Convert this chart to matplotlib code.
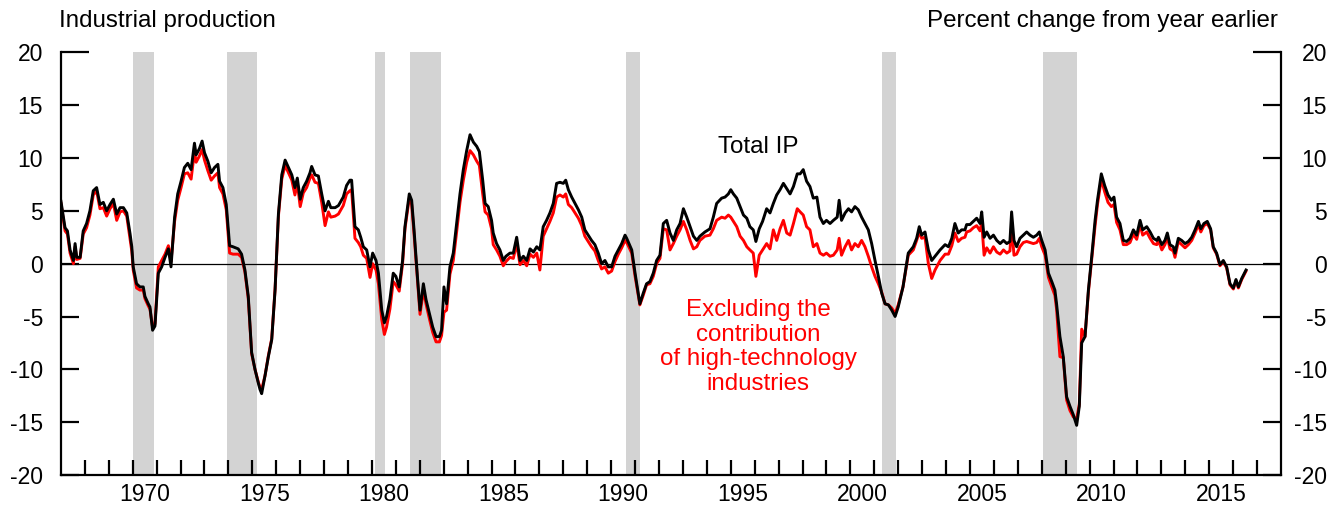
import matplotlib
matplotlib.use("Agg")
import matplotlib.pyplot as plt
import matplotlib.transforms as mtransforms

plt.rcParams["font.family"] = ["Liberation Sans", "DejaVu Sans"]
plt.rcParams["axes.unicode_minus"] = False

# decimal year of each reading
dates = [
    1967.00, 1967.17, 1967.27, 1967.38, 1967.52, 1967.59, 1967.66, 1967.80, 1967.93,
    1968.07, 1968.21, 1968.35, 1968.49, 1968.63, 1968.77, 1968.91,
    1969.05, 1969.19, 1969.33, 1969.47, 1969.61, 1969.75, 1969.89, 1969.96,
    1970.02, 1970.16, 1970.30, 1970.44, 1970.51, 1970.65, 1970.72, 1970.83, 1970.93,
    1971.07, 1971.21, 1971.35, 1971.49, 1971.60, 1971.75, 1971.88,
    1972.02, 1972.16, 1972.30, 1972.44, 1972.58, 1972.65, 1972.79, 1972.90,
    1973.00, 1973.14, 1973.28, 1973.42, 1973.56, 1973.63, 1973.77, 1973.91,
    1974.05, 1974.19, 1974.41, 1974.55, 1974.69, 1974.83, 1974.97,
    1975.11, 1975.25, 1975.32, 1975.39, 1975.53, 1975.67, 1975.81, 1975.95,
    1976.09, 1976.23, 1976.37, 1976.51, 1976.65, 1976.78, 1976.88,
    1977.00, 1977.13, 1977.27, 1977.41, 1977.48, 1977.62, 1977.76, 1977.90,
    1978.04, 1978.18, 1978.28, 1978.46, 1978.60, 1978.80, 1978.94,
    1979.08, 1979.15, 1979.29, 1979.43, 1979.53, 1979.64, 1979.78, 1979.92,
    1980.03, 1980.17, 1980.27, 1980.41, 1980.52, 1980.61, 1980.75, 1980.89,
    1981.00, 1981.14, 1981.28, 1981.38, 1981.56, 1981.66, 1981.76, 1981.90,
    1982.01, 1982.15, 1982.26, 1982.40, 1982.54, 1982.68, 1982.82, 1982.91,
    1983.01, 1983.12, 1983.26, 1983.40, 1983.54, 1983.68, 1983.82, 1983.96,
    1984.10, 1984.24, 1984.38, 1984.49, 1984.63, 1984.73, 1984.86,
    1985.00, 1985.07, 1985.21, 1985.35, 1985.49, 1985.60, 1985.77, 1985.91,
    1986.05, 1986.19, 1986.33, 1986.47, 1986.61, 1986.75, 1986.89,
    1987.02, 1987.16, 1987.30, 1987.44, 1987.58, 1987.72, 1987.86,
    1988.00, 1988.10, 1988.21, 1988.35, 1988.49, 1988.63, 1988.77, 1988.90,
    1989.04, 1989.18, 1989.32, 1989.46, 1989.60, 1989.74, 1989.88,
    1990.02, 1990.16, 1990.30, 1990.44, 1990.58, 1990.65, 1990.86,
    1991.00, 1991.20, 1991.34, 1991.48, 1991.62, 1991.76, 1991.90,
    1992.04, 1992.18, 1992.32, 1992.46, 1992.60, 1992.74, 1992.88,
    1993.02, 1993.16, 1993.30, 1993.44, 1993.58, 1993.71, 1993.92,
    1994.13, 1994.27, 1994.41, 1994.62, 1994.76, 1994.90,
    1995.00, 1995.11, 1995.25, 1995.39, 1995.53, 1995.67, 1995.80, 1995.94,
    1996.05, 1996.19, 1996.33, 1996.50, 1996.64, 1996.78, 1996.92,
    1997.06, 1997.20, 1997.34, 1997.48, 1997.62, 1997.78, 1997.90,
    1998.03, 1998.17, 1998.31, 1998.45, 1998.60, 1998.73, 1998.87,
    1999.00, 1999.15, 1999.29, 1999.45, 1999.53, 1999.63, 1999.78, 1999.92,
    2000.05, 2000.19, 2000.33, 2000.47, 2000.61, 2000.75, 2000.89,
    2001.03, 2001.17, 2001.31, 2001.45, 2001.59, 2001.73, 2001.87,
    2002.00, 2002.20, 2002.42, 2002.63, 2002.77, 2002.88, 2002.98,
    2003.12, 2003.26, 2003.40, 2003.54, 2003.75, 2003.96,
    2004.10, 2004.24, 2004.37, 2004.51, 2004.65, 2004.79, 2004.86,
    2005.00, 2005.14, 2005.28, 2005.42, 2005.49, 2005.59, 2005.70, 2005.84, 2005.98,
    2006.12, 2006.26, 2006.40, 2006.54, 2006.67, 2006.74, 2006.84, 2006.95,
    2007.09, 2007.23, 2007.37, 2007.51, 2007.65, 2007.79, 2007.90,
    2008.00, 2008.14, 2008.28, 2008.42, 2008.55, 2008.62, 2008.76, 2008.90,
    2009.04, 2009.18, 2009.32, 2009.46, 2009.57, 2009.67, 2009.81, 2009.95,
    2010.09, 2010.23, 2010.33, 2010.49, 2010.63, 2010.77, 2010.91,
    2011.02, 2011.13, 2011.27, 2011.41, 2011.55, 2011.69, 2011.83, 2011.97,
    2012.11, 2012.22, 2012.39, 2012.53, 2012.67, 2012.81, 2012.88,
    2013.02, 2013.15, 2013.25, 2013.36, 2013.50, 2013.57, 2013.71, 2013.85, 2013.99,
    2014.13, 2014.27, 2014.41, 2014.55, 2014.65, 2014.78, 2014.92,
    2015.06, 2015.17, 2015.31, 2015.45, 2015.59, 2015.73, 2015.87,
    2016.01, 2016.12, 2016.22, 2016.36, 2016.54,
]

total_ip = [
    5.9, 3.4, 3.1, 1.3, 0.3, 1.9, 0.6, 0.6, 3.1,
    3.8, 5.0, 6.9, 7.2, 5.6, 5.8, 5.0,
    5.6, 6.1, 4.7, 5.3, 5.3, 4.8, 2.8, 1.6,
    -0.3, -1.9, -2.2, -2.2, -3.1, -3.8, -4.1, -6.3, -5.9,
    -0.9, -0.3, 0.6, 1.4, -0.3, 4.4, 6.6,
    7.8, 9.1, 9.5, 8.9, 11.4, 10.3, 10.9, 11.6,
    10.5, 9.7, 8.6, 9.1, 9.4, 7.8, 7.2, 5.6,
    1.7, 1.6, 1.4, 0.9, -0.6, -3.1, -8.4,
    -10.0, -11.3, -11.9, -12.3, -10.6, -8.8, -7.2, -2.5,
    4.7, 8.4, 9.8, 9.1, 8.4, 7.2, 8.1,
    6.1, 7.2, 7.8, 8.6, 9.2, 8.4, 8.3, 6.6,
    5.0, 5.9, 5.3, 5.3, 5.5, 6.3, 7.4,
    7.9, 7.9, 3.5, 3.2, 2.5, 1.6, 1.3, -0.3,
    1.0, 0.3, -0.9, -4.4, -5.6, -5.0, -3.4, -0.9,
    -1.2, -2.2, 0.3, 3.5, 6.6, 6.0, 3.2, -1.2,
    -4.4, -1.9, -3.4, -4.7, -6.0, -6.9, -6.9, -6.3,
    -2.2, -3.8, -0.3, 1.0, 3.8, 6.6, 8.9, 10.7,
    12.2, 11.5, 11.1, 10.6, 7.9, 5.7, 5.4,
    4.1, 2.9, 1.9, 1.3, 0.3, 0.7, 1.0, 1.0,
    2.5, 0.3, 0.7, 0.3, 1.4, 1.1, 1.6,
    1.3, 3.5, 4.1, 4.8, 5.7, 7.6, 7.7,
    7.6, 7.9, 7.0, 6.3, 5.7, 5.1, 4.4, 3.2,
    2.7, 2.2, 1.8, 1.0, 0.0, 0.3, -0.3,
    -0.3, 0.7, 1.3, 1.9, 2.7, 2.4, 1.3,
    -0.9, -3.8, -2.8, -1.9, -1.7, -0.9, 0.3,
    0.8, 3.8, 4.1, 2.9, 2.2, 3.2, 3.8,
    5.2, 4.4, 3.5, 2.6, 2.2, 2.6, 3.0,
    3.3, 4.4, 5.7, 6.2, 6.3, 6.6,
    7.0, 6.6, 6.2, 5.4, 4.6, 4.3, 3.5, 3.2,
    2.1, 3.3, 4.0, 5.2, 4.8, 5.7, 6.5,
    7.0, 7.6, 7.1, 6.6, 7.3, 8.5, 8.5,
    8.9, 7.8, 7.3, 6.2, 6.3, 4.4, 3.8,
    4.1, 3.8, 4.1, 4.4, 6.0, 4.1, 4.8, 5.2,
    4.9, 5.4, 5.1, 4.4, 3.8, 3.2, 1.9,
    0.3, -1.2, -2.8, -3.8, -3.9, -4.4, -5.0,
    -4.1, -2.2, 1.0, 1.6, 2.4, 3.5, 2.7,
    3.0, 1.3, 0.3, 0.7, 1.3, 1.8,
    1.6, 2.4, 3.8, 2.9, 3.2, 3.2, 3.7,
    3.7, 4.0, 4.3, 3.8, 4.9, 2.5, 3.0, 2.4, 2.7,
    2.2, 1.9, 2.2, 1.9, 2.1, 4.9, 2.2, 1.6,
    2.4, 2.7, 3.0, 2.7, 2.5, 2.7, 3.0,
    2.2, 1.3, -0.9, -1.7, -2.5, -3.8, -6.9, -8.8,
    -12.6, -13.5, -14.3, -15.3, -13.5, -7.5, -6.9, -2.5,
    0.7, 4.1, 6.0, 8.5, 7.4, 6.5, 6.0,
    6.3, 4.4, 3.8, 2.2, 2.1, 2.4, 3.2, 2.7,
    4.1, 3.2, 3.5, 3.0, 2.4, 2.2, 2.5,
    1.8, 2.2, 2.9, 1.8, 1.6, 1.0, 2.4, 2.2, 1.9,
    2.1, 2.5, 3.2, 4.0, 3.3, 3.8, 4.0,
    3.3, 1.6, 1.0, -0.1, 0.3, -0.3, -1.9,
    -2.3, -1.5, -2.2, -1.4, -0.6,
]

excl_hitech = [
    5.7, 3.1, 2.8, 1.0, 0.0, 1.6, 0.4, 0.5, 2.8,
    3.4, 4.6, 6.5, 6.9, 5.2, 5.3, 4.5,
    5.2, 5.7, 4.1, 4.9, 5.0, 4.5, 2.3, 1.2,
    -0.6, -2.3, -2.5, -2.5, -3.3, -4.0, -4.3, -6.0, -5.7,
    -0.3, 0.3, 0.9, 1.7, 0.2, 4.0, 6.0,
    7.2, 8.5, 8.6, 8.0, 10.6, 9.6, 10.2, 10.8,
    9.8, 8.8, 7.9, 8.3, 8.6, 7.2, 6.6, 5.1,
    1.0, 0.9, 0.9, 0.6, -0.8, -3.3, -8.5,
    -10.0, -11.2, -11.7, -11.9, -10.6, -8.7, -7.1, -2.4,
    4.5, 8.0, 9.3, 8.6, 7.9, 6.5, 7.6,
    5.4, 6.7, 7.2, 8.1, 8.4, 7.7, 7.6, 5.8,
    3.6, 4.9, 4.4, 4.5, 4.7, 5.5, 6.6,
    6.9, 7.0, 2.4, 2.0, 1.6, 0.8, 0.5, -1.3,
    0.0, -0.6, -1.9, -5.3, -6.7, -6.0, -4.3, -1.7,
    -2.0, -2.6, 0.0, 3.3, 6.2, 5.6, 2.8, -1.5,
    -4.8, -2.5, -3.8, -5.2, -6.5, -7.4, -7.4, -6.8,
    -4.6, -4.4, -1.0, 0.3, 3.0, 5.8, 7.9, 9.6,
    10.7, 10.3, 9.7, 9.3, 6.6, 4.9, 4.6,
    3.3, 1.8, 1.3, 0.7, -0.2, 0.2, 0.6, 0.5,
    1.9, -0.1, 0.3, -0.2, 0.9, 0.6, 1.0,
    -0.6, 2.6, 3.3, 4.0, 4.8, 6.3, 6.5,
    6.3, 6.6, 5.6, 5.3, 4.8, 4.3, 3.6, 2.6,
    2.1, 1.6, 1.2, 0.3, -0.5, -0.3, -0.9,
    -0.7, 0.2, 0.9, 1.5, 2.2, 2.0, 1.0,
    -1.2, -3.9, -3.0, -2.0, -1.9, -1.2, 0.0,
    0.5, 3.3, 3.2, 1.3, 1.9, 2.6, 3.2,
    4.0, 3.2, 2.2, 1.4, 1.6, 2.2, 2.6,
    2.7, 3.3, 4.1, 4.4, 4.3, 4.6,
    4.4, 4.0, 3.5, 2.6, 2.2, 1.6, 1.3, 1.0,
    -1.2, 0.8, 1.3, 1.9, 1.4, 3.2, 2.2,
    3.3, 4.1, 2.9, 2.7, 3.8, 5.2, 4.9,
    4.6, 3.5, 3.2, 1.6, 1.9, 1.0, 0.8,
    1.0, 0.7, 0.8, 1.3, 2.4, 0.8, 1.6, 2.2,
    1.3, 1.9, 1.6, 2.2, 1.6, 0.7, -0.3,
    -1.2, -1.9, -2.7, -3.8, -3.9, -4.2, -4.7,
    -3.9, -2.2, 0.8, 1.3, 2.2, 3.0, 2.4,
    2.5, 0.0, -1.4, -0.6, 0.3, 0.9,
    0.9, 1.7, 2.9, 2.1, 2.4, 2.5, 3.0,
    3.1, 3.4, 3.6, 3.1, 3.9, 0.8, 1.5, 1.0, 1.6,
    1.1, 0.9, 1.3, 1.0, 1.2, 3.6, 0.8, 0.9,
    1.6, 2.0, 2.1, 2.0, 1.9, 2.0, 2.4,
    1.6, 0.8, -1.3, -2.2, -3.0, -4.3, -8.8, -8.9,
    -12.9, -13.9, -14.5, -14.7, -13.3, -6.2, -6.9, -2.7,
    0.4, 3.6, 5.6, 8.0, 6.8, 5.8, 5.4,
    5.6, 3.9, 3.2, 1.8, 1.8, 2.0, 2.8, 2.3,
    3.7, 2.7, 3.0, 2.4, 1.9, 1.8, 2.2,
    1.3, 1.8, 2.5, 1.4, 1.2, 0.6, 2.1, 1.8, 1.5,
    1.8, 2.2, 2.9, 3.7, 3.0, 3.6, 3.8,
    3.2, 1.5, 0.9, -0.2, 0.2, -0.4, -2.0,
    -2.4, -1.6, -2.3, -1.5, -0.7,
]

# shaded recession periods (start, end) in decimal years
recessions = [
    (1970.02, 1970.87), (1973.96, 1975.20), (1980.12, 1980.56),
    (1981.59, 1982.88), (1990.61, 1991.22), (2001.31, 2001.91),
    (2008.04, 2009.47),
]

fig = plt.figure(figsize=(13.43, 5.07), dpi=100)
ax = fig.add_axes([0.0454, 0.0631, 0.9084, 0.8337])

for start, end in recessions:
    ax.axvspan(start, end, color="#d3d3d3", lw=0, zorder=0)

ax.axhline(0, color="black", lw=0.9, zorder=1)
ax.plot(dates, excl_hitech, color="#ff0000", lw=2.1, zorder=2)
ax.plot(dates, total_ip, color="black", lw=2.1, zorder=3)

ax.set_xlim(1967, 2018)
ax.set_ylim(-20, 20)

# spines
ax.spines["top"].set_visible(False)
for side in ["left", "right", "bottom"]:
    ax.spines[side].set_linewidth(1.6)

# y axis on both sides, ticks pointing in
ax.set_yticks(range(-20, 21, 5))
ax.tick_params(axis="y", which="major", direction="in", length=13, width=1.6,
               left=True, right=True, labelleft=True, labelright=True,
               labelsize=16.5, pad=13)

# x axis: year ticks, labels centred in the year
years = list(range(1968, 2018))
label_years = list(range(1970, 2016, 5))
ax.set_xticks(years, minor=True)
ax.set_xticks([y + 0.5 for y in label_years])
ax.set_xticklabels([str(y) for y in label_years])
ax.tick_params(axis="x", which="minor", direction="in", length=11, width=1.6)
ax.tick_params(axis="x", which="major", length=0, labelsize=16.5, pad=6)

fig.canvas.draw()
# right-hand labels right aligned; the top tick is a bit longer
offset = mtransforms.ScaledTranslation(20 / 72, 0, fig.dpi_scale_trans)
for t in ax.yaxis.get_major_ticks():
    t.label2.set_horizontalalignment("right")
    t.label2.set_transform(t.label2.get_transform() + offset)
    if t.get_loc() == 20:
        t.tick1line.set_markersize(20)
        t.tick2line.set_markersize(20)

fig.text(0.044, 0.947, "Industrial production", fontsize=17.4, ha="left", va="baseline")
fig.text(0.9516, 0.947, "Percent change from year earlier", fontsize=17.4,
         ha="right", va="baseline")

ax.text(1996.15, 11.0, "Total IP", fontsize=17.4, ha="center", va="center", color="black")
ax.text(1996.15, -7.9, "Excluding the\ncontribution\nof high-technology\nindustries",
        fontsize=17.4, ha="center", va="center", color="#ff0000", linespacing=1.15)

fig.savefig("out.png", dpi=100)
